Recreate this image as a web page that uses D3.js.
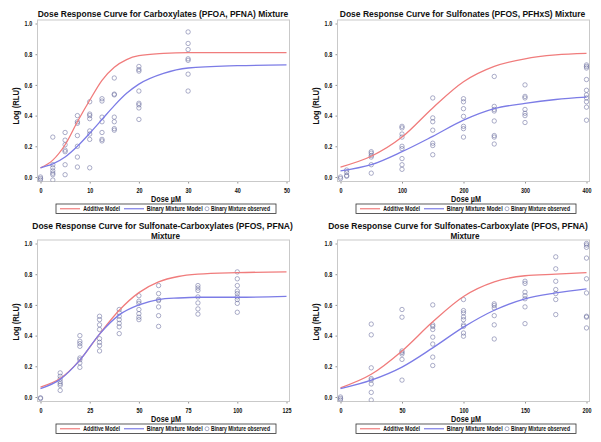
<!DOCTYPE html>
<html><head><meta charset="utf-8">
<script src="https://cdn.jsdelivr.net/npm/d3@7"></script>
<style>body{margin:0;background:#fff}</style>
</head><body>
<svg id="c" width="601" height="442"></svg>
<script>
// ---------- DATA ----------
const p1Title = ["Dose Response Curve for Carboxylates (PFOA, PFNA) Mixture"];
const p1XTicks = [0,10,20,30,40,50];
const p1Doses = [0,2.5,5,7.5,10,12.5,15,20,30];
const p1Obs = [
  [0.0,-0.01,-0.02],
  [0.26,0.08,0.06,0.04,0.025,0.015,-0.02],
  [0.29,0.24,0.21,0.175,0.165,0.08,0.015],
  [0.40,0.36,0.35,0.27,0.20,0.13,0.065],
  [0.49,0.41,0.40,0.38,0.30,0.28,0.245,0.06],
  [0.51,0.495,0.39,0.36,0.29,0.245,0.235],
  [0.645,0.54,0.535,0.39,0.36,0.315,0.305],
  [0.72,0.70,0.69,0.56,0.48,0.47,0.45,0.375],
  [0.945,0.87,0.83,0.77,0.76,0.67,0.56]
];
const p1CurveDoses = [0,2.5,5,7.5,10,12.5,15,17.5,20,25,30,40,50];
const p1Additive = [0.06,0.11,0.21,0.36,0.50,0.63,0.715,0.765,0.79,0.805,0.81,0.81,0.81];
const p1Binary   = [0.06,0.085,0.13,0.20,0.285,0.375,0.465,0.545,0.605,0.675,0.71,0.725,0.73];

const p2Title = ["Dose Response Curve for Sulfonates (PFOS, PFHxS) Mixture"];
const p2XTicks = [0,100,200,300,400];
const p2Doses = [0,10,50,100,150,200,250,300,400];
const p2Obs = [
  [0.0,-0.01],
  [0.045,0.03,0.01,0.005],
  [0.165,0.155,0.14,0.13,0.08,0.025],
  [0.33,0.32,0.28,0.26,0.20,0.185,0.12,0.08,0.05],
  [0.515,0.385,0.36,0.305,0.22,0.205,0.145],
  [0.51,0.49,0.445,0.395,0.33,0.315,0.26],
  [0.655,0.46,0.44,0.43,0.365,0.27,0.26,0.215],
  [0.60,0.525,0.515,0.44,0.415,0.40,0.355],
  [0.73,0.72,0.71,0.635,0.565,0.535,0.515,0.49,0.455,0.37]
];
const p2CurveDoses = [0,50,100,150,200,250,300,350,400];
const p2Additive = [0.065,0.135,0.26,0.45,0.62,0.72,0.77,0.795,0.805];
const p2Binary   = [0.04,0.08,0.165,0.265,0.37,0.445,0.48,0.505,0.52];

const p3Title = ["Dose Response Curve for Sulfonate-Carboxylates (PFOS, PFNA)","Mixture"];
const p3XTicks = [0,25,50,75,100,125];
const p3Doses = [0,10,20,30,40,50,60,80,100];
const p3Obs = [
  [-0.005,-0.01],
  [0.157,0.135,0.117,0.10,0.087,0.076,0.043],
  [0.40,0.363,0.348,0.33,0.254,0.243,0.222,0.193],
  [0.526,0.504,0.47,0.44,0.38,0.356,0.335,0.30],
  [0.57,0.55,0.526,0.504,0.48,0.457,0.413],
  [0.66,0.624,0.61,0.57,0.543,0.52,0.504],
  [0.726,0.674,0.635,0.628,0.587,0.53,0.46],
  [0.726,0.71,0.694,0.652,0.613,0.574,0.54],
  [0.815,0.77,0.726,0.69,0.674,0.652,0.635,0.61,0.552]
];
const p3CurveDoses = [0,10,20,30,40,50,60,70,80,100,125];
const p3Additive = [0.065,0.12,0.24,0.41,0.565,0.68,0.75,0.785,0.80,0.81,0.815];
const p3Binary   = [0.055,0.115,0.24,0.41,0.535,0.60,0.635,0.645,0.65,0.65,0.655];

const p4Title = ["Dose Response Curve for Sulfonates-Carboxylate (PFOS, PFNA)","Mixture"];
const p4XTicks = [0,50,100,150,200];
const p4Doses = [0,25,50,75,100,125,150,175,200];
const p4Obs = [
  [0.0,-0.01,-0.02],
  [0.475,0.405,0.19,0.12,0.11,0.085,0.03,-0.02],
  [0.57,0.52,0.30,0.29,0.28,0.245,0.11],
  [0.60,0.47,0.46,0.44,0.39,0.345,0.26,0.205],
  [0.635,0.563,0.548,0.522,0.504,0.47,0.46,0.417,0.396],
  [0.607,0.596,0.58,0.53,0.47,0.378],
  [0.754,0.74,0.683,0.66,0.64,0.587,0.478],
  [0.913,0.835,0.754,0.70,0.674,0.635,0.537],
  [1.0,0.99,0.975,0.905,0.77,0.678,0.526,0.52,0.45]
];
const p4CurveDoses = [0,25,50,75,100,125,150,175,200];
const p4Additive = [0.06,0.148,0.30,0.49,0.655,0.75,0.79,0.80,0.81];
const p4Binary   = [0.055,0.11,0.195,0.32,0.455,0.565,0.64,0.678,0.705];

const yTicks = [0,0.2,0.4,0.6,0.8,1.0];
const legendLabels = ["Additive Model","Binary Mixture Model","Binary Mixture observed"];
const xLabel = "Dose µM";
const yLabel = "Log (RLU)";

// ---------- DRAW ----------
const FONT = "'Liberation Sans',Arial,sans-serif";
const RED = "#f07c7c", BLUE = "#7c7ce6", MARK = "rgba(100,105,155,0.6)";
const SQ = 0.8; // horizontal condensing of the reference's lettering
const svg = d3.select("#c");
svg.append("rect").attr("width",601).attr("height",442).attr("fill","#fff");

function fit(sel, w){
  sel.each(function(){
    const len = this.getComputedTextLength();
    const target = w == null ? len*SQ : w;
    this.setAttribute("textLength", target);
    this.setAttribute("lengthAdjust","spacingAndGlyphs");
  });
}
// condensed text via a horizontal scale transform (keeps true bounding box)
function scaledText(parent, cx, cy, str, size, width, rotate){
  const gg = parent.append("g");
  const t = gg.append("text").attr("text-anchor","middle")
    .attr("font-family",FONT).attr("font-weight","bold").attr("font-size",size).attr("fill","#111").text(str);
  const sx = width / t.node().getComputedTextLength();
  gg.attr("transform", `translate(${cx},${cy})` + (rotate ? " rotate(-90)" : "") + ` scale(${sx},1)`);
  return t;
}

const panels = [
  {ox:0,oy:0,title:p1Title,xt:p1XTicks,doses:p1Doses,obs:p1Obs,cd:p1CurveDoses,add:p1Additive,bin:p1Binary,
   ty:[17.3],tx:[163],tw:[250],yl:106},
  {ox:300,oy:0,title:p2Title,xt:p2XTicks,doses:p2Doses,obs:p2Obs,cd:p2CurveDoses,add:p2Additive,bin:p2Binary,
   ty:[17.3],tx:[162.5],tw:[245],yl:106},
  {ox:0,oy:220,title:p3Title,xt:p3XTicks,doses:p3Doses,obs:p3Obs,cd:p3CurveDoses,add:p3Additive,bin:p3Binary,
   ty:[9.2,18.8],tx:[162.5,165.5],tw:[261,29],yl:102},
  {ox:300,oy:220,title:p4Title,xt:p4XTicks,doses:p4Doses,obs:p4Obs,cd:p4CurveDoses,add:p4Additive,bin:p4Binary,
   ty:[9.2,18.8],tx:[158,165],tw:[260,29],yl:102}
];

panels.forEach((p,i)=>{
  const g = svg.append("g").attr("transform",`translate(${p.ox},${p.oy})`);
  const xmax = p.xt[p.xt.length-1];
  const x = d3.scaleLinear().domain([0,xmax]).range([40.5,286.5]);
  const y = d3.scaleLinear().domain([0,1]).range([177,23.5]);
  const L=37.5,R=289.5,T=20,B=181.5;
  const clipId = "clip"+i;
  g.append("clipPath").attr("id",clipId).append("rect").attr("x",L).attr("y",T).attr("width",R-L).attr("height",B-T);

  p.title.forEach((t,k)=>{
    scaledText(g, p.tx[k], p.ty[k], t, p.title.length>1 ? 9 : 9.4, p.tw[k], false);
  });

  const xa = g.append("g").attr("transform",`translate(0,${B})`)
    .call(d3.axisBottom(x).tickValues(p.xt).tickSize(2).tickFormat(d3.format("d")));
  const ya = g.append("g").attr("transform",`translate(${L},0)`)
    .call(d3.axisLeft(y).tickValues(yTicks).tickSize(2).tickFormat(d3.format(".1f")));
  [xa,ya].forEach(a=>{
    a.select(".domain").remove();
    a.selectAll("line").attr("stroke","#666").attr("stroke-width",0.7);
    a.selectAll("text").attr("font-family",FONT).attr("font-weight","bold").attr("font-size",6.8).attr("fill","#111");
    fit(a.selectAll("text"), null);
  });
  xa.selectAll("text").attr("dy","0.9em");
  ya.selectAll("text").attr("dx","-0.05em");

  g.append("rect").attr("x",L).attr("y",T).attr("width",R-L).attr("height",B-T)
    .attr("fill","none").attr("stroke","#c9c9c9").attr("stroke-width",1);

  const plot = g.append("g").attr("clip-path",`url(#${clipId})`);
  const pts = [];
  p.doses.forEach((d,j)=>p.obs[j].forEach(v=>pts.push([d,v])));
  plot.selectAll("circle.o").data(pts).join("circle").attr("class","o")
    .attr("cx",d=>x(d[0])).attr("cy",d=>y(d[1])).attr("r",2.2)
    .attr("fill","none").attr("stroke",MARK).attr("stroke-width",0.9);
  const line = d3.line().x(d=>x(d[0])).y(d=>y(d[1])).curve(d3.curveMonotoneX);
  plot.append("path").attr("d",line(p.cd.map((d,j)=>[d,p.add[j]])))
    .attr("fill","none").attr("stroke",RED).attr("stroke-width",1.3);
  plot.append("path").attr("d",line(p.cd.map((d,j)=>[d,p.bin[j]])))
    .attr("fill","none").attr("stroke",BLUE).attr("stroke-width",1.3);

  scaledText(g, 166, 201.5, xLabel, 9, 30, false);
  scaledText(g, 18.5, p.yl, yLabel, 9.4, 37, true);

  const lg = g.append("g");
  lg.append("rect").attr("x",56).attr("y",204).attr("width",220).attr("height",9.5)
    .attr("fill","#fff").attr("stroke","#333").attr("stroke-width",0.8);
  const ly = 208.75;
  lg.append("line").attr("x1",60).attr("x2",80).attr("y1",ly).attr("y2",ly).attr("stroke",RED).attr("stroke-width",1.2);
  lg.append("line").attr("x1",124).attr("x2",144).attr("y1",ly).attr("y2",ly).attr("stroke",BLUE).attr("stroke-width",1.2);
  lg.append("circle").attr("cx",207).attr("cy",ly).attr("r",2).attr("fill","none").attr("stroke",MARK).attr("stroke-width",0.9);
  [[83.3,legendLabels[0],36.7],[146.7,legendLabels[1],56],[211,legendLabels[2],59]].forEach(([lx,t,w])=>{
    const lt = lg.append("text").attr("x",lx).attr("y",ly).attr("dy","0.35em")
      .attr("font-family",FONT).attr("font-weight","bold").attr("font-size",6.4).attr("fill","#111").text(t);
    fit(lt, w);
  });
});
</script>
</body></html>
